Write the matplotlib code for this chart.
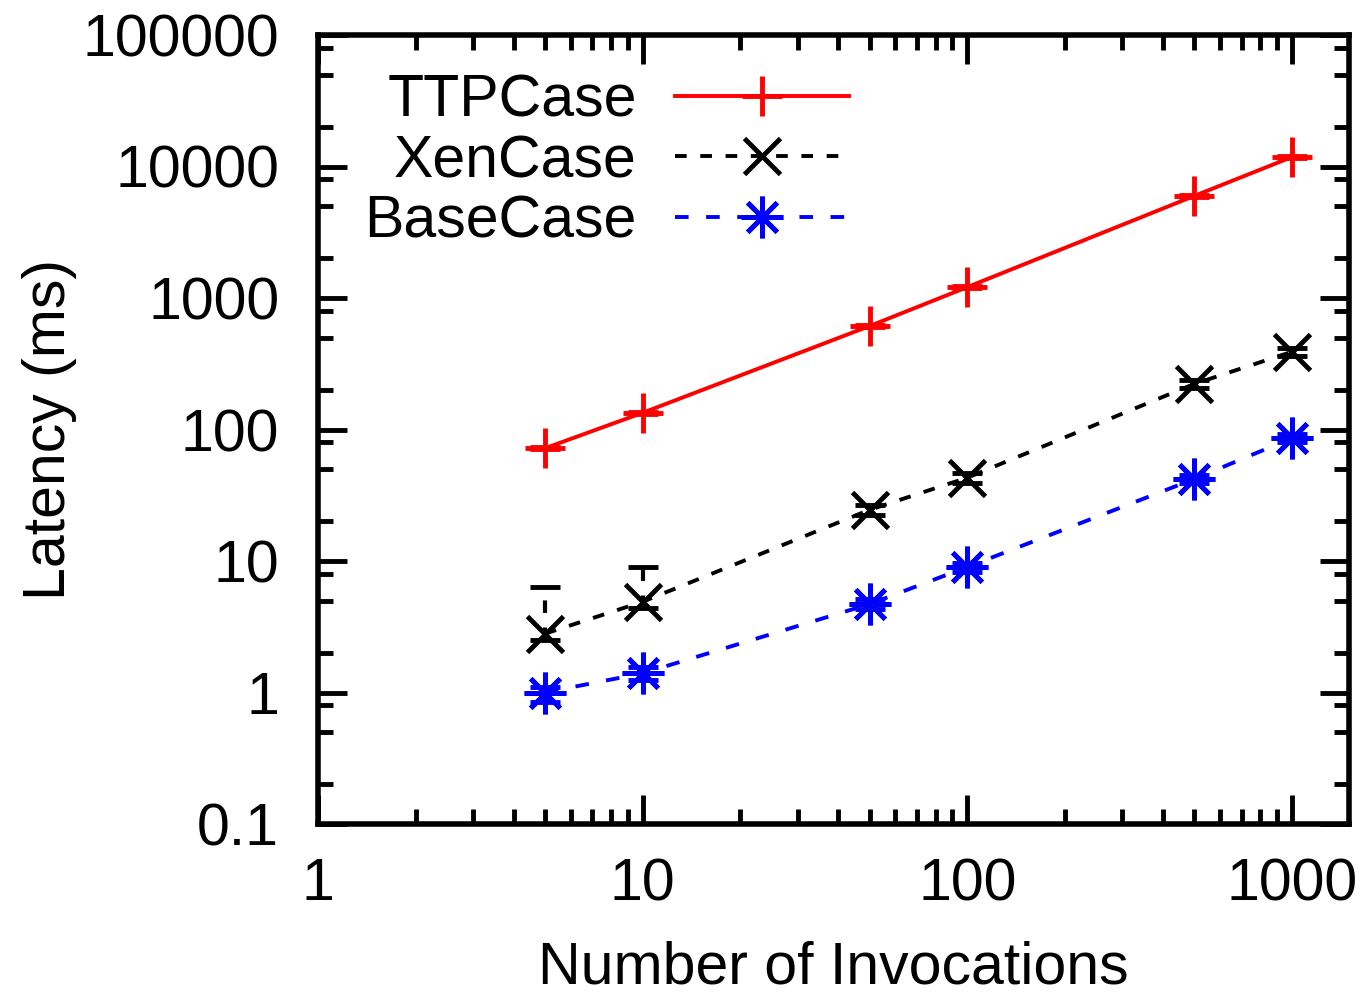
import matplotlib
matplotlib.use("Agg")
import matplotlib.pyplot as plt
import matplotlib.ticker as mticker
from matplotlib.lines import Line2D
import numpy as np

plt.rcParams['font.family'] = ['Liberation Sans', 'DejaVu Sans']

invocations = [5, 10, 50, 100, 500, 1000]
ttp = [72, 134, 612, 1210, 5970, 11800]
ttp_lo = [1.5, 3, 12, 25, 120, 240]
ttp_hi = [1.5, 3, 12, 25, 120, 240]
xen = [2.8, 4.9, 24.5, 43, 222, 390]
xen_lo = [0.3, 0.5, 2, 4, 15, 25]
xen_hi = [3.5, 4.1, 2, 4, 15, 25]
base = [1.0, 1.4, 4.7, 9.0, 42, 86]
base_lo = [0.15, 0.15, 0.4, 0.7, 3, 6]
base_hi = [0.1, 0.15, 0.4, 0.7, 3, 6]

FS = 42.5
fig = plt.figure(figsize=(13.71, 10.0), dpi=100)
ax = fig.add_axes([0.232, 0.176, 0.752, 0.789])
ax.set_xscale('log')
ax.set_yscale('log')
ax.set_xlim(1, 1500)
ax.set_ylim(0.1, 100000)

lw = 2.8
red, blk, blu = '#ff0000', 'black', '#0000ff'
styles = [
    dict(color=red, ls='-', marker='+', ms=29, mew=3.5),
    dict(color=blk, ls=(0, (3, 3.5)), marker='x', ms=26, mew=3.5),
    dict(color=blu, ls=(0, (3.5, 4.5)), marker=(8, 2, 0), ms=30, mew=3.5),
]
series = [(ttp, ttp_lo, ttp_hi, 'TTPCase'), (xen, xen_lo, xen_hi, 'XenCase'),
          (base, base_lo, base_hi, 'BaseCase')]
handles = []
for (vals, lo, hi, lab), st in zip(series, styles):
    e = ax.errorbar(invocations, vals, yerr=[lo, hi], color=st['color'], lw=lw,
                    ls=st['ls'], marker=st['marker'], ms=st['ms'], mew=st['mew'],
                    capsize=11, capthick=3, elinewidth=3)
    if st['ls'] != '-':
        for c in e[2]:
            c.set_linestyle(st['ls'])
    handles.append(Line2D([], [], color=st['color'], lw=lw, ls=st['ls'], marker=st['marker'],
                          ms=st['ms'], mew=st['mew'], label=lab))

ax.xaxis.set_major_locator(mticker.FixedLocator([1, 10, 100, 1000]))
ax.xaxis.set_major_formatter(mticker.FixedFormatter(['1', '10', '100', '1000']))
ax.xaxis.set_minor_locator(mticker.LogLocator(base=10, subs=np.arange(2, 10)))
ax.xaxis.set_minor_formatter(mticker.NullFormatter())
yt = [0.1, 1, 10, 100, 1000, 10000, 100000]
ax.yaxis.set_major_locator(mticker.FixedLocator(yt))
ax.yaxis.set_major_formatter(mticker.FixedFormatter(['0.1', '1', '10', '100', '1000', '10000', '100000']))
ax.yaxis.set_minor_locator(mticker.LogLocator(base=10, subs=[2, 5, 8]))
ax.yaxis.set_minor_formatter(mticker.NullFormatter())

ax.tick_params(which='both', direction='in', top=True, right=True, width=3.5, labelsize=FS)
ax.tick_params(which='major', length=21)
ax.tick_params(which='minor', length=11)
ax.tick_params(axis='y', which='major', pad=28)
ax.tick_params(axis='x', which='major', pad=24)
for s in ax.spines.values():
    s.set_linewidth(4)

ax.set_xlabel('Number of Invocations', fontsize=FS, labelpad=20)
ax.set_ylabel('Latency (ms)', fontsize=FS, labelpad=4)

leg = ax.legend(handles=handles, loc='upper left', bbox_to_anchor=(0.005, 1.004), markerfirst=False,
                frameon=False, fontsize=FS, handlelength=2.95, handletextpad=0.65,
                labelspacing=0.1, borderaxespad=0.3)

fig.savefig('out.png', dpi=100)
